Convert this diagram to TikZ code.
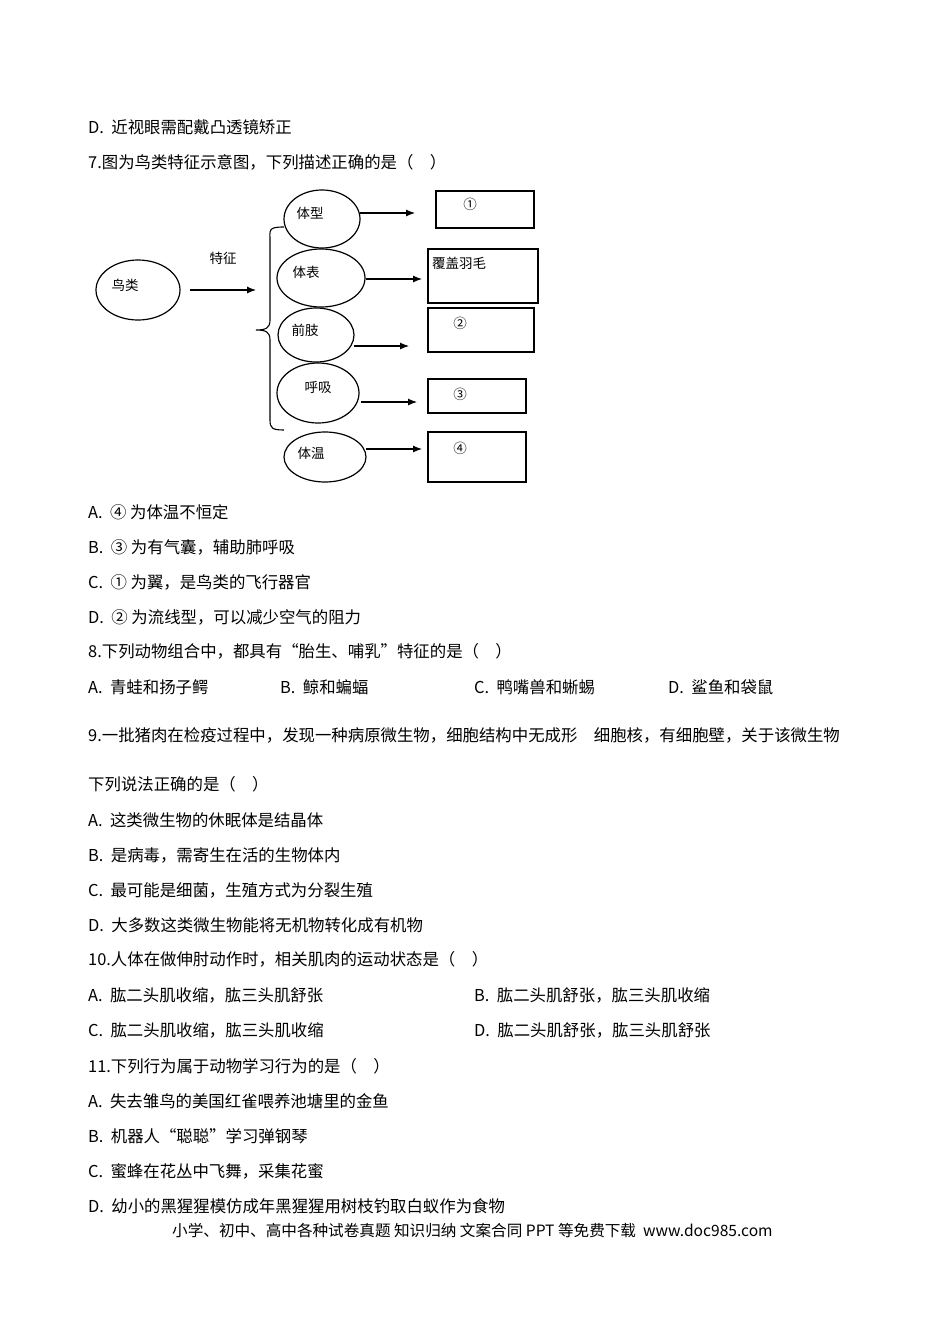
\documentclass[tikz,border=0pt]{standalone}
\usepackage{fontspec}
\usetikzlibrary{arrows.meta}
\setmainfont{Liberation Serif}
\newfontfamily\cjk{Noto Sans CJK SC}
\begin{document}
\begin{tikzpicture}[x=1pt,y=-1pt,
 txt/.style={anchor=west,inner sep=0pt,font=\cjk\fontsize{16.4}{18}\selectfont},
 lab/.style={inner sep=0pt,font=\cjk\fontsize{13.5}{15}\selectfont},
 ell/.style={draw,line width=1.2pt},
 bx/.style={draw,line width=1.1pt},
 arr/.style={-{Latex[length=9pt,width=7pt]},line width=1.1pt}]
\useasboundingbox (0,0) rectangle (950,1344);
% text
\node[txt] (t1) at (88,127) {D.\ \ 近视眼需配戴凸透镜矫正};
\node[txt] (t2) at (88,162) {7.图为鸟类特征示意图，下列描述正确的是（\quad ）};
\node[txt] (t3) at (88,512) {A.\ \ ④ 为体温不恒定};
\node[txt] (t4) at (88,547) {B.\ \ ③ 为有气囊，辅助肺呼吸};
\node[txt] (t5) at (88,582) {C.\ \ ① 为翼，是鸟类的飞行器官};
\node[txt] (t6) at (88,617) {D.\ \ ② 为流线型，可以减少空气的阻力};
\node[txt] (t7) at (88,651) {8.下列动物组合中，都具有“胎生、哺乳”特征的是（\quad ）};
\node[txt] (o1) at (88,687) {A.\ \ 青蛙和扬子鳄};
\node[txt] (o2) at (280,687) {B.\ \ 鲸和蝙蝠};
\node[txt] (o3) at (474,687) {C.\ \ 鸭嘴兽和蜥蜴};
\node[txt] (o4) at (668,687) {D.\ \ 鲨鱼和袋鼠};
\node[txt] (t8) at (88,735) {9.一批猪肉在检疫过程中，发现一种病原微生物，细胞结构中无成形\quad 细胞核，有细胞壁，关于该微生物};
\node[txt] (t9) at (88,784) {下列说法正确的是（\quad ）};
\node[txt] (t10) at (88,820) {A.\ \ 这类微生物的休眠体是结晶体};
\node[txt] (t11) at (88,855) {B.\ \ 是病毒，需寄生在活的生物体内};
\node[txt] (t12) at (88,890) {C.\ \ 最可能是细菌，生殖方式为分裂生殖};
\node[txt] (t13) at (88,925) {D.\ \ 大多数这类微生物能将无机物转化成有机物};
\node[txt] (t14) at (88,959) {10.人体在做伸肘动作时，相关肌肉的运动状态是（\quad ）};
\node[txt] (t15) at (88,995) {A.\ \ 肱二头肌收缩，肱三头肌舒张};
\node[txt] (t16) at (474,995) {B.\ \ 肱二头肌舒张，肱三头肌收缩};
\node[txt] (t17) at (88,1030) {C.\ \ 肱二头肌收缩，肱三头肌收缩};
\node[txt] (t18) at (474,1030) {D.\ \ 肱二头肌舒张，肱三头肌舒张};
\node[txt] (t19) at (88,1066) {11.下列行为属于动物学习行为的是（\quad ）};
\node[txt] (t20) at (88,1101) {A.\ \ 失去雏鸟的美国红雀喂养池塘里的金鱼};
\node[txt] (t21) at (88,1136) {B.\ \ 机器人“聪聪”学习弹钢琴};
\node[txt] (t22) at (88,1171) {C.\ \ 蜜蜂在花丛中飞舞，采集花蜜};
\node[txt] (t23) at (88,1206) {D.\ \ 幼小的黑猩猩模仿成年黑猩猩用树枝钓取白蚁作为食物};
\node[txt,font=\cjk\fontsize{15.6}{17}\selectfont] (ft) at (172,1231) {小学、初中、高中各种试卷真题 知识归纳 文案合同 PPT 等免费下载\ \ www.doc985.com};
% diagram
\draw[ell] (138,290) ellipse [x radius=42,y radius=30];
\node[lab] (bird) at (125,285) {鸟类};
\coordinate (a0) at (190,290);
\coordinate (a1) at (256,290);
\draw[arr] (a0) -- (a1);
\node[lab] (tz) at (223,258) {特征};
\draw[line width=1.1pt] (284,227) .. controls (268,227) and (270,230) .. (270,240) -- (270,320) .. controls (270,328) and (266,330) .. (256,330) .. controls (266,330) and (270,332) .. (270,340) -- (270,420) .. controls (270,428) and (272,430) .. (284,430);
\draw[ell] (322,219) ellipse [x radius=38,y radius=29];
\draw[ell] (321,278) ellipse [x radius=44,y radius=29];
\draw[ell] (316,335) ellipse [x radius=38,y radius=27];
\draw[ell] (318,393) ellipse [x radius=41,y radius=30];
\draw[ell] (325,457) ellipse [x radius=41,y radius=25];
\node[lab] (e1) at (310,213) {体型};
\node[lab] (e2) at (306,272) {体表};
\node[lab] (e3) at (305,330) {前肢};
\node[lab] (e4) at (318,387) {呼吸};
\node[lab] (e5) at (311,453) {体温};
\coordinate (p1) at (360,213); \coordinate (q1) at (415,213);
\coordinate (p2) at (366,279); \coordinate (q2) at (422,279);
\coordinate (p3) at (354,346); \coordinate (q3) at (409,346);
\coordinate (p4) at (361,402); \coordinate (q4) at (417,402);
\coordinate (p5) at (366,449); \coordinate (q5) at (422,449);
\foreach \i in {1,...,5} \draw[arr] (p\i) -- (q\i);
\draw[bx] (436,191) rectangle (534,228);
\draw[bx] (428,249) rectangle (538,303);
\draw[bx] (428,308) rectangle (534,352);
\draw[bx] (428,379) rectangle (526,413);
\draw[bx] (428,432) rectangle (526,482);
\node[lab] (b1) at (470,204) {①};
\node[lab] (b2) at (459,263) {覆盖羽毛};
\node[lab] (b3) at (460,323) {②};
\node[lab] (b4) at (460,394) {③};
\node[lab] (b5) at (460,448) {④};
\end{tikzpicture}
\end{document}
